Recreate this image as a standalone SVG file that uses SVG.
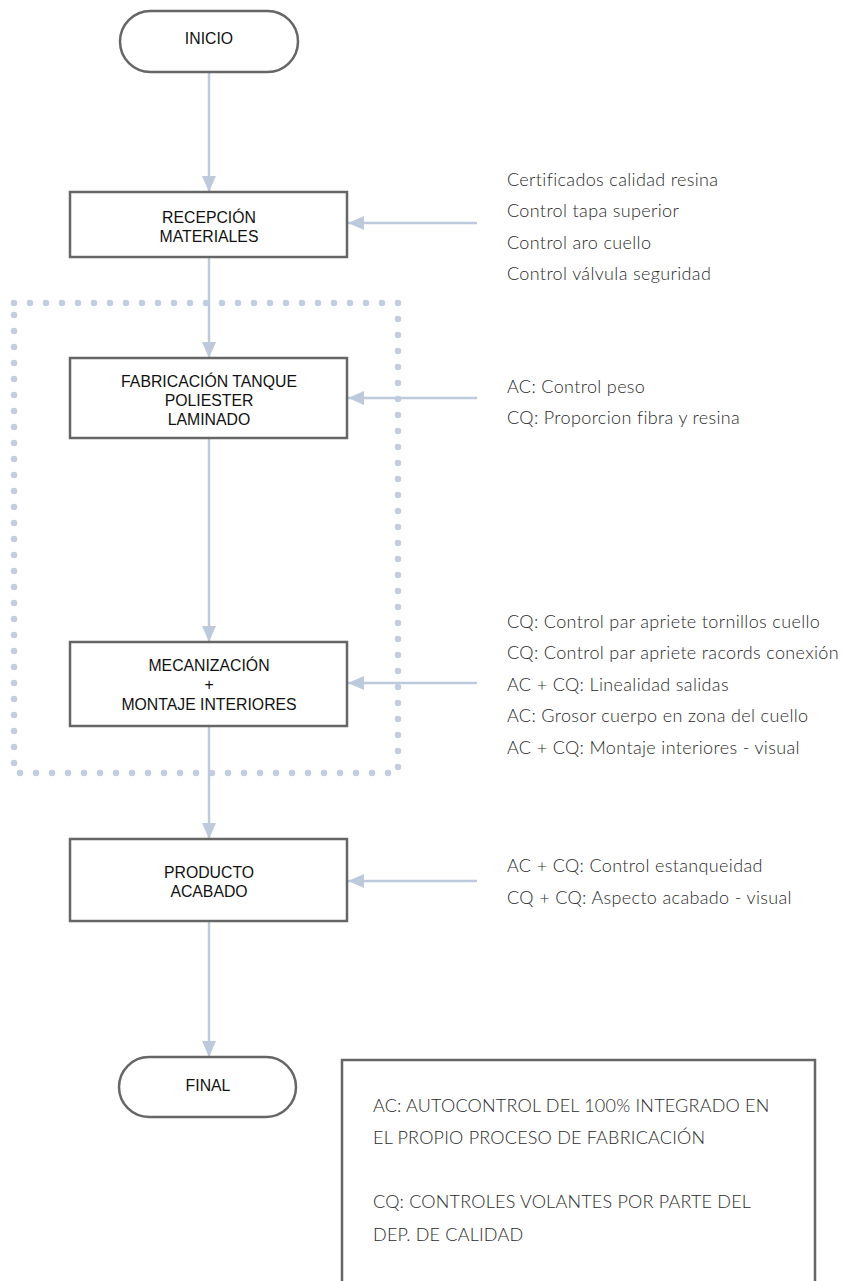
<svg xmlns="http://www.w3.org/2000/svg" width="846" height="1281" viewBox="0 0 846 1281">
<style>
.node{fill:#fff;stroke:#666;stroke-width:2.5}
.nt{font-family:"Liberation Sans",Arial,sans-serif;font-size:15.8px;fill:#111;text-anchor:middle}
.note{font-family:Lato,"Open Sans",sans-serif;font-weight:300;font-size:18px;letter-spacing:0.35px;fill:#2a2a2a}
.leg{font-family:Lato,"Open Sans",sans-serif;font-weight:300;font-size:18px;letter-spacing:0.2px;fill:#2a2a2a}
.conn{stroke:#bccadc;stroke-width:2.5;fill:none}
.dots{stroke:#c2cee0;stroke-width:6.5;fill:none;stroke-dasharray:0 16;stroke-linecap:round}
</style>
<defs>
<marker id="ah" viewBox="0 0 16 14" refX="16" refY="7" markerWidth="16" markerHeight="14" markerUnits="userSpaceOnUse" orient="auto">
<path d="M0,0 L16,7 L0,14 Z" fill="#bccadc"/>
</marker>
</defs>
<rect width="846" height="1281" fill="#fff"/>
<g id="group-box">
<path class="dots" d="M14,303 H398 V773 H14 Z"/>
</g>
<g id="connectors">
<line class="conn" x1="209" y1="72" x2="209" y2="192" marker-end="url(#ah)"/>
<line class="conn" x1="209" y1="257" x2="209" y2="358" marker-end="url(#ah)"/>
<line class="conn" x1="209" y1="438" x2="209" y2="642" marker-end="url(#ah)"/>
<line class="conn" x1="209" y1="726" x2="209" y2="839" marker-end="url(#ah)"/>
<line class="conn" x1="209" y1="921" x2="209" y2="1057" marker-end="url(#ah)"/>
<line class="conn" x1="477" y1="223" x2="348" y2="223" marker-end="url(#ah)"/>
<line class="conn" x1="477" y1="398" x2="348" y2="398" marker-end="url(#ah)"/>
<line class="conn" x1="477" y1="683" x2="348" y2="683" marker-end="url(#ah)"/>
<line class="conn" x1="477" y1="881" x2="348" y2="881" marker-end="url(#ah)"/>
</g>
<g id="inicio">
<rect class="node" x="120" y="11" width="178" height="61" rx="30.5"/>
<text class="nt" x="209" y="44">INICIO</text>
</g>
<g id="recepcion">
<rect class="node" x="70" y="192" width="277" height="65"/>
<text class="nt" x="209" y="223">RECEPCIÓN</text>
<text class="nt" x="209" y="242">MATERIALES</text>
</g>
<g id="fabricacion">
<rect class="node" x="70" y="358" width="277" height="80"/>
<text class="nt" x="209" y="387">FABRICACIÓN TANQUE</text>
<text class="nt" x="209" y="406">POLIESTER</text>
<text class="nt" x="209" y="425">LAMINADO</text>
</g>
<g id="mecanizacion">
<rect class="node" x="70" y="642" width="277" height="84"/>
<text class="nt" x="209" y="671">MECANIZACIÓN</text>
<text class="nt" x="209" y="690">+</text>
<text class="nt" x="209" y="710">MONTAJE INTERIORES</text>
</g>
<g id="producto">
<rect class="node" x="70" y="839" width="277" height="82"/>
<text class="nt" x="209" y="878">PRODUCTO</text>
<text class="nt" x="209" y="897">ACABADO</text>
</g>
<g id="final">
<rect class="node" x="119" y="1057" width="177" height="60" rx="30"/>
<text class="nt" x="208" y="1091">FINAL</text>
</g>
<g id="notes-recepcion">
<text class="note" x="507" y="186">Certificados calidad resina</text>
<text class="note" x="507" y="217">Control tapa superior</text>
<text class="note" x="507" y="249">Control aro cuello</text>
<text class="note" x="507" y="280">Control válvula seguridad</text>
</g>
<g id="notes-fabricacion">
<text class="note" x="507" y="393">AC: Control peso</text>
<text class="note" x="507" y="424">CQ: Proporcion fibra y resina</text>
</g>
<g id="notes-mecanizacion">
<text class="note" x="507" y="628">CQ: Control par apriete tornillos cuello</text>
<text class="note" x="507" y="659">CQ: Control par apriete racords conexión</text>
<text class="note" x="507" y="691">AC + CQ: Linealidad salidas</text>
<text class="note" x="507" y="722">AC: Grosor cuerpo en zona del cuello</text>
<text class="note" x="507" y="754">AC + CQ: Montaje interiores - visual</text>
</g>
<g id="notes-producto">
<text class="note" x="507" y="872">AC + CQ: Control estanqueidad</text>
<text class="note" x="507" y="904">CQ + CQ: Aspecto acabado - visual</text>
</g>
<g id="legend">
<rect x="342" y="1060" width="473" height="240" fill="#fff" stroke="#666" stroke-width="2.5"/>
<text class="leg" x="373" y="1112">AC: AUTOCONTROL DEL 100% INTEGRADO EN</text>
<text class="leg" x="373" y="1144">EL PROPIO PROCESO DE FABRICACIÓN</text>
<text class="leg" x="373" y="1208">CQ: CONTROLES VOLANTES POR PARTE DEL</text>
<text class="leg" x="373" y="1241">DEP. DE CALIDAD</text>
</g>
</svg>
